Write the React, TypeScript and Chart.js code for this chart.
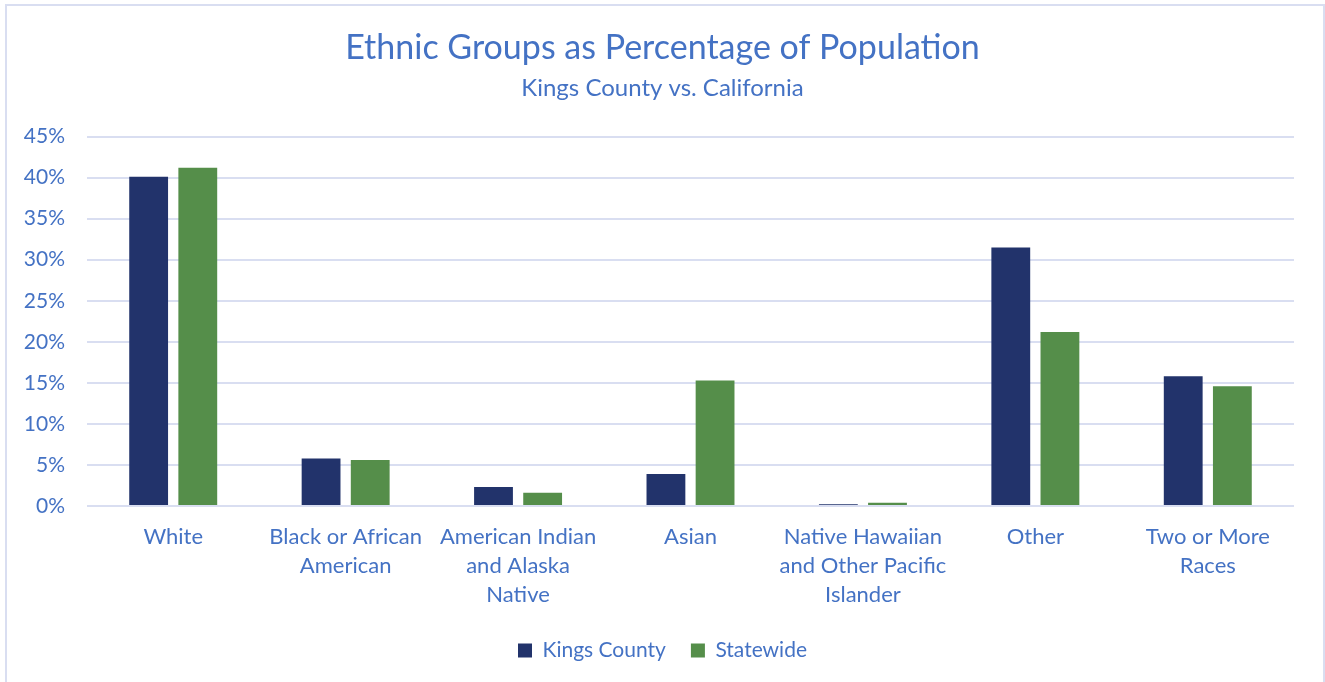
import React, { useEffect, useRef } from "react";
import { Chart, registerables } from "chart.js";

Chart.register(...registerables);

const categories: (string | string[])[] = [
  "White",
  ["Black or African", "American"],
  ["American Indian", "and Alaska", "Native"],
  "Asian",
  ["Native Hawaiian", "and Other Pacific", "Islander"],
  "Other",
  ["Two or More", "Races"],
];
const kingsCounty = [40.1, 5.8, 2.3, 3.9, 0.2, 31.5, 15.8];
const statewide = [41.2, 5.6, 1.6, 15.3, 0.4, 21.2, 14.6];
const seriesNames = ["Kings County", "Statewide"];
const titleText = "Ethnic Groups as Percentage of Population";
const subtitleText = "Kings County vs. California";

const TEXT = "#4472C4";
const FONT = "Lato, 'Open Sans', sans-serif";

export default function App() {
  const ref = useRef<HTMLCanvasElement>(null);
  useEffect(() => {
    const chart = new Chart(ref.current!, {
      type: "bar",
      data: {
        labels: categories,
        datasets: [
          {
            label: seriesNames[0],
            data: kingsCounty,
            backgroundColor: "#22336B",
            borderWidth: 0,
            categoryPercentage: 0.57,
            barPercentage: 0.79,
          },
          {
            label: seriesNames[1],
            data: statewide,
            backgroundColor: "#558E4A",
            borderWidth: 0,
            categoryPercentage: 0.57,
            barPercentage: 0.79,
          },
        ],
      },
      options: {
        responsive: false,
        animation: false,
        layout: { padding: { left: 0, right: 0, top: 0, bottom: 11 } },
        plugins: {
          title: {
            display: true,
            text: titleText,
            color: TEXT,
            font: { family: FONT, size: 34, weight: "normal", lineHeight: 1.2 },
            padding: { top: 28, bottom: 5 },
          },
          subtitle: {
            display: true,
            text: subtitleText,
            color: TEXT,
            font: { family: FONT, size: 24, weight: "normal", lineHeight: 1.2 },
            padding: { top: 0, bottom: 34 },
          },
          legend: {
            position: "bottom",
            labels: {
              color: TEXT,
              font: { family: FONT, size: 21 },
              boxWidth: 14,
              boxHeight: 14,
              padding: 25,
            },
          },
          tooltip: { enabled: false },
        },
        scales: {
          x: {
            grid: { display: false, drawTicks: false },
            border: { display: false },
            ticks: {
              color: TEXT,
              font: { family: FONT, size: 22, lineHeight: 1.32 },
              padding: 16,
              maxRotation: 0,
              autoSkip: false,
            },
            afterFit: (scale: any) => {
              scale.height = 109;
            },
          },
          y: {
            min: 0,
            max: 45,
            grid: { color: "#D9DEF1", lineWidth: 2, drawTicks: false },
            border: { display: false },
            ticks: {
              stepSize: 5,
              color: TEXT,
              font: { family: FONT, size: 21 },
              padding: 22,
              callback: (v: any) => v + "%",
            },
            afterFit: (scale: any) => {
              scale.width = 87;
            },
          },
          yRight: {
            position: "right",
            min: 0,
            max: 45,
            grid: { display: false, drawTicks: false },
            border: { display: false },
            ticks: { display: false },
            afterFit: (scale: any) => {
              scale.width = 31;
            },
          },
        },
      },
    });
    return () => chart.destroy();
  }, []);
  return (
    <div style={{ position: "fixed", left: 0, top: 0, width: 1325, height: 682, background: "#fff", overflow: "hidden" }}>
      <div
        style={{
          position: "absolute",
          left: 5,
          top: 4,
          width: 1316,
          height: 700,
          border: "2px solid #D9DEF1",
        }}
      />
      <canvas ref={ref} width={1325} height={682} style={{ position: "absolute", left: 0, top: 0 }} />
    </div>
  );
}
